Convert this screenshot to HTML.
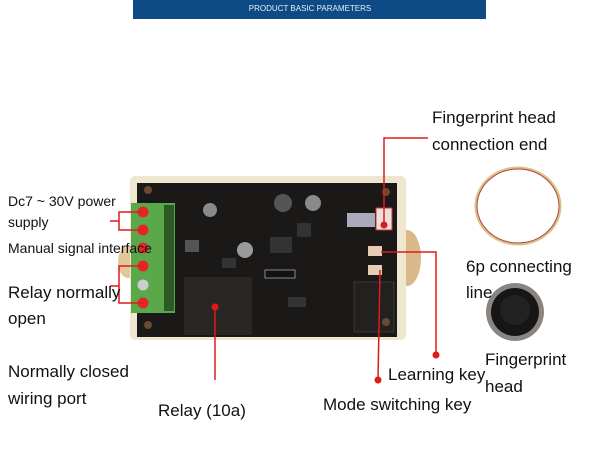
<!DOCTYPE html>
<html><head><meta charset="utf-8"><style>
html,body{margin:0;padding:0;background:#fff;}
svg{display:block}
text{font-family:"Liberation Sans",sans-serif;fill:#111}
</style></head><body>
<svg width="600" height="460" viewBox="0 0 600 460" xmlns="http://www.w3.org/2000/svg">
<rect x="0" y="0" width="600" height="460" fill="#fff"/>
<rect x="133" y="0" width="353" height="19" fill="#0d4a86"/>
<text x="310" y="11" font-size="8" text-anchor="middle" style="fill:#e8eef6">PRODUCT BASIC PARAMETERS</text>
<!-- case -->
<ellipse cx="407" cy="258" rx="14" ry="28" fill="#d9b98a"/>
<ellipse cx="128" cy="262" rx="10" ry="16" fill="#e0c89a"/>
<rect x="130" y="176" width="276" height="164" rx="5" fill="#efe6cf"/>
<rect x="137" y="183" width="260" height="154" fill="#1b1918"/>
<rect x="184" y="277" width="68" height="58" fill="#2a2624"/>
<rect x="354" y="282" width="40" height="50" fill="#232120" stroke="#555" stroke-width="0.5"/>
<circle cx="148" cy="190" r="4" fill="#6b4a30"/>
<circle cx="148" cy="325" r="4" fill="#6b4a30"/>
<circle cx="386" cy="192" r="4" fill="#6b4a30"/>
<circle cx="386" cy="322" r="4" fill="#6b4a30"/>
<!-- components -->
<circle cx="210" cy="210" r="7" fill="#8a8a8a"/>
<circle cx="245" cy="250" r="8" fill="#9a9a9a"/>
<circle cx="283" cy="203" r="9" fill="#555"/>
<circle cx="313" cy="203" r="8" fill="#8a8a8a"/>
<rect x="270" y="237" width="22" height="16" fill="#333"/>
<rect x="297" y="223" width="14" height="14" fill="#333"/>
<rect x="185" y="240" width="14" height="12" fill="#555"/>
<rect x="222" y="258" width="14" height="10" fill="#333"/>
<rect x="265" y="270" width="30" height="8" fill="#111" stroke="#bbb" stroke-width="0.7"/>
<rect x="288" y="297" width="18" height="10" fill="#333"/>
<rect x="347" y="213" width="28" height="14" fill="#aab"/>
<rect x="376" y="208" width="16" height="22" fill="#e9e2dc" stroke="#c33" stroke-width="1"/>
<rect x="368" y="246" width="14" height="10" fill="#e7ccb4"/>
<rect x="368" y="265" width="14" height="10" fill="#e7ccb4"/>
<!-- terminal block -->
<rect x="131" y="203" width="44" height="110" fill="#5aa84a"/>
<rect x="164" y="205" width="10" height="106" fill="#2c5a26"/>
<g fill="#e62626">
<circle cx="143" cy="212" r="5.5"/><circle cx="143" cy="230" r="5.5"/><circle cx="143" cy="248" r="5.5"/>
<circle cx="143" cy="266" r="5.5"/><circle cx="143" cy="303" r="5.5"/></g>
<circle cx="143" cy="285" r="5.5" fill="#ccc"/>
<!-- cable -->
<ellipse cx="518" cy="206" rx="42" ry="38" fill="none" stroke="#d8c48a" stroke-width="3"/>
<ellipse cx="518" cy="206" rx="41" ry="37" fill="none" stroke="#b44" stroke-width="1"/>
<!-- fingerprint head -->
<circle cx="515" cy="312" r="29" fill="#8a8580"/>
<circle cx="515" cy="312" r="24" fill="#161616"/>
<circle cx="515" cy="310" r="15" fill="#222"/>
<!-- leader lines -->
<g stroke="#e01a1a" stroke-width="1.5" fill="none">
<polyline points="428,138 384,138 384,225"/>
<polyline points="381,252 436,252 436,355"/>
<line x1="380" y1="270" x2="378" y2="380"/>
<line x1="215" y1="307" x2="215" y2="380"/>
<polyline points="143,212 119,212 119,230 143,230"/>
<line x1="110" y1="221" x2="119" y2="221"/>
<polyline points="143,266 119,266 119,303 143,303"/>
<line x1="110" y1="286" x2="119" y2="286"/>
</g>
<g fill="#e01a1a">
<circle cx="384" cy="225" r="3.5"/><circle cx="436" cy="355" r="3.5"/><circle cx="378" cy="380" r="3.5"/>
<circle cx="215" cy="307" r="3.5"/></g>
<!-- labels -->
<text x="432" y="123" font-size="17">Fingerprint head</text>
<text x="432" y="150" font-size="17">connection end</text>
<text x="8" y="206" font-size="14">Dc7 ~ 30V power</text>
<text x="8" y="227" font-size="14">supply</text>
<text x="8" y="253" font-size="14">Manual signal interface</text>
<text x="8" y="298" font-size="17">Relay normally</text>
<text x="8" y="324" font-size="17">open</text>
<text x="8" y="377" font-size="17">Normally closed</text>
<text x="8" y="404" font-size="17">wiring port</text>
<text x="466" y="272" font-size="17">6p connecting</text>
<text x="466" y="298" font-size="17">line</text>
<text x="485" y="365" font-size="17">Fingerprint</text>
<text x="485" y="392" font-size="17">head</text>
<text x="388" y="380" font-size="17">Learning key</text>
<text x="323" y="410" font-size="17">Mode switching key</text>
<text x="158" y="416" font-size="17">Relay (10a)</text>
</svg>
</body></html>
